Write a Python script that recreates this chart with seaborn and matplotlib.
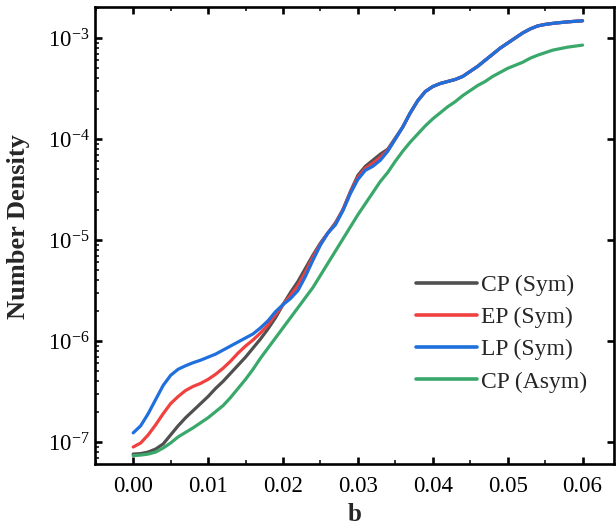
import numpy as np
import pandas as pd
import matplotlib
matplotlib.use("Agg")
import matplotlib.pyplot as plt
from matplotlib.ticker import MultipleLocator, LogLocator, NullFormatter
import seaborn as sns

# impact parameter b
b = [round(0.001 * i, 3) for i in range(61)]

# log10 of number density for each case
cp_sym = [
    -7.12, -7.115, -7.10, -7.07, -7.02, -6.93, -6.84, -6.76, -6.69, -6.62,
    -6.55, -6.47, -6.40, -6.32, -6.24, -6.16, -6.07, -5.98, -5.88, -5.77,
    -5.64, -5.52, -5.41, -5.28, -5.15, -5.03, -4.93, -4.83, -4.70, -4.52,
    -4.36, -4.27, -4.21, -4.15, -4.10, -3.99, -3.88, -3.74, -3.62, -3.53,
    -3.48, -3.45, -3.43, -3.41, -3.38, -3.33, -3.28, -3.22, -3.16, -3.10,
    -3.05, -3.00, -2.95, -2.91, -2.88, -2.865, -2.855, -2.847, -2.840, -2.834,
    -2.829,
]
ep_sym = [
    -7.05, -7.01, -6.93, -6.83, -6.72, -6.62, -6.55, -6.49, -6.45, -6.42,
    -6.38, -6.33, -6.27, -6.20, -6.12, -6.05, -5.99, -5.92, -5.84, -5.74,
    -5.64, -5.55, -5.45, -5.32, -5.17, -5.04, -4.93, -4.84, -4.70, -4.53,
    -4.38, -4.29, -4.24, -4.18, -4.11, -4.00, -3.88, -3.74, -3.62, -3.53,
    -3.48, -3.45, -3.43, -3.41, -3.38, -3.33, -3.28, -3.22, -3.16, -3.10,
    -3.05, -3.00, -2.95, -2.91, -2.88, -2.865, -2.855, -2.847, -2.840, -2.834,
    -2.829,
]
lp_sym = [
    -6.91, -6.84, -6.72, -6.58, -6.44, -6.34, -6.28, -6.245, -6.215, -6.19,
    -6.16, -6.13, -6.09, -6.05, -6.01, -5.97, -5.93, -5.87, -5.80, -5.71,
    -5.64, -5.58, -5.50, -5.36, -5.20, -5.05, -4.93, -4.85, -4.71, -4.54,
    -4.40, -4.31, -4.27, -4.21, -4.12, -4.00, -3.88, -3.74, -3.62, -3.53,
    -3.48, -3.45, -3.43, -3.41, -3.38, -3.33, -3.28, -3.22, -3.16, -3.10,
    -3.05, -3.00, -2.95, -2.91, -2.88, -2.865, -2.855, -2.847, -2.840, -2.834,
    -2.829,
]
cp_asym = [
    -7.135, -7.13, -7.12, -7.10, -7.06, -7.01, -6.95, -6.905, -6.86, -6.81,
    -6.76, -6.70, -6.64, -6.56, -6.47, -6.38, -6.28, -6.17, -6.07, -5.97,
    -5.87, -5.77, -5.67, -5.57, -5.47, -5.35, -5.23, -5.11, -4.99, -4.87,
    -4.75, -4.64, -4.53, -4.42, -4.33, -4.22, -4.12, -4.03, -3.95, -3.87,
    -3.80, -3.74, -3.68, -3.63, -3.57, -3.52, -3.47, -3.43, -3.38, -3.34,
    -3.30, -3.27, -3.24, -3.20, -3.17, -3.145, -3.12, -3.105, -3.09, -3.08,
    -3.07,
]

labels = ["CP (Sym)", "EP (Sym)", "LP (Sym)", "CP (Asym)"]
colors = ["#505050", "#f04040", "#1f6fdc", "#3aa86a"]

frames = []
for name, vals in zip(labels, [cp_sym, ep_sym, lp_sym, cp_asym]):
    frames.append(pd.DataFrame({"b": b, "density": np.power(10.0, vals), "case": name}))
df = pd.concat(frames, ignore_index=True)

sns.set_theme(style="ticks")
plt.rcParams["font.family"] = ["Liberation Serif", "DejaVu Serif"]
plt.rcParams["mathtext.fontset"] = "custom"
plt.rcParams["mathtext.rm"] = "Liberation Serif"
plt.rcParams["mathtext.it"] = "Liberation Serif:italic"
plt.rcParams["mathtext.bf"] = "Liberation Serif:bold"

W, H = 616, 529
fig = plt.figure(figsize=(W / 100, H / 100), dpi=100)
ax = fig.add_axes([95 / W, (H - 464) / H, 519 / W, 457 / H])

sns.lineplot(data=df, x="b", y="density", hue="case", hue_order=labels,
             palette=colors, linewidth=2.3, ax=ax, sort=False)

ax.set_yscale("log")
ax.set_xlim(-0.0051, 0.0642)
ax.set_ylim(6.05e-8, 2.03e-3)

ax.xaxis.set_major_locator(MultipleLocator(0.01))
ax.xaxis.set_minor_locator(MultipleLocator(0.005))
ax.xaxis.set_major_formatter(plt.FuncFormatter(lambda v, p: f"{v:.2f}"))
ax.yaxis.set_major_locator(LogLocator(base=10, numticks=20))
ax.yaxis.set_minor_locator(LogLocator(base=10, subs=np.arange(2, 10), numticks=20))
ax.yaxis.set_minor_formatter(NullFormatter())

for s in ax.spines.values():
    s.set_linewidth(1.9)
    s.set_color("black")

ax.tick_params(axis="both", which="major", direction="in", length=5, width=1.9,
               labelsize=16.5, colors="black")
ax.tick_params(axis="x", which="major", pad=9)
ax.tick_params(axis="y", which="major", pad=4)
ax.tick_params(axis="both", which="minor", direction="in", length=3, width=1.3)
ax.tick_params(axis="x", which="both", top=True)
ax.tick_params(axis="y", which="major", right=True)
ax.tick_params(axis="y", which="minor", right=False)

ax.set_xlabel("b", fontsize=18, fontweight="bold", labelpad=4)
ax.set_ylabel("Number Density", fontsize=19, fontweight="bold")
ax.yaxis.set_label_coords(-0.125, 0.52)

leg = ax.legend(loc="upper left", bbox_to_anchor=(0.6, 0.435), frameon=False,
                fontsize=17, handlelength=2.6, handletextpad=0.15,
                labelspacing=0.45, borderaxespad=0)
for line in leg.get_lines():
    line.set_linewidth(2.6)

fig.savefig("out.png", dpi=100)
